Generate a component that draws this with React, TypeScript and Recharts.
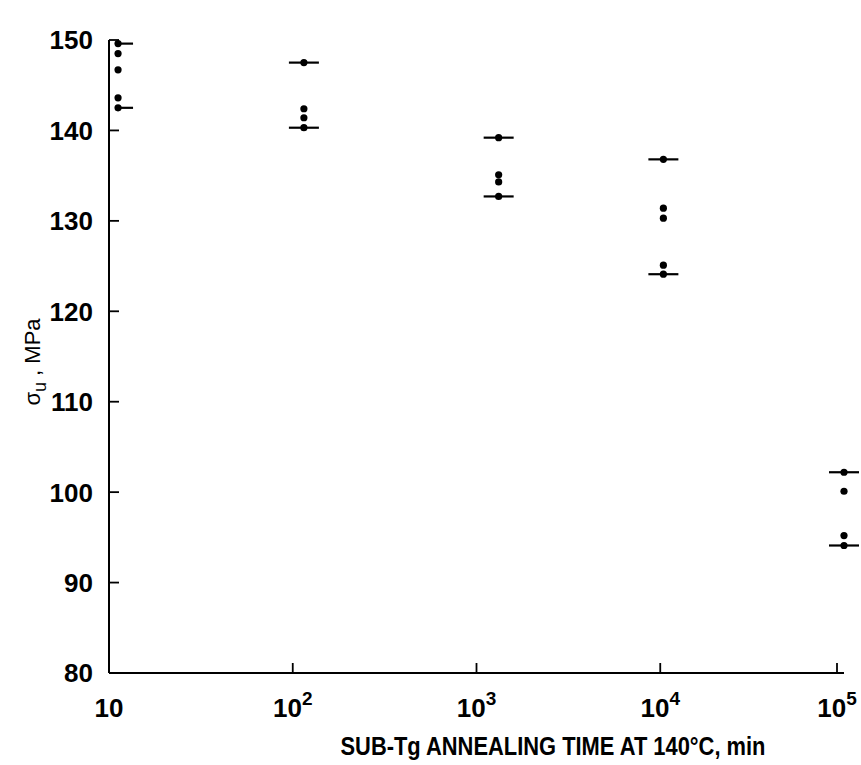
import { Scatter, ScatterChart, XAxis, YAxis } from 'recharts';

// annealing times (min) of the five specimen groups
const annealTimes = [11.2, 115, 1320, 10400, 100000];
// upper and lower ends of the scatter band (drawn with a bar)
const sigmaMax = [149.6, 147.5, 139.2, 136.8, 102.2];
const sigmaMin = [142.5, 140.3, 132.7, 124.1, 94.1];
// the other measurements inside each band
const sigmaInner = [
  [148.5, 146.7, 143.6],
  [142.4, 141.4],
  [135.1, 134.3],
  [131.4, 130.3, 125.1],
  [100.1, 95.2],
];

const xTicks = [10, 100, 1000, 10000, 100000];
const yTicks = [80, 90, 100, 110, 120, 130, 140, 150];

const endPoints = annealTimes.flatMap((t, i) => [
  { t, s: sigmaMax[i] },
  { t, s: sigmaMin[i] },
]);
const innerPoints = annealTimes.flatMap((t, i) =>
  sigmaInner[i].map((s) => ({ t, s })),
);

const font = '"Liberation Sans", Arial, sans-serif';

const BarDot = (props: any) => {
  const { cx, cy, payload } = props;
  // first group sits on the y axis, its bars only stick out to the right
  const left = payload.t < 20 ? cx - 2 : cx - 15;
  return (
    <g>
      <line x1={left} x2={cx + 15} y1={cy} y2={cy} stroke='#000' strokeWidth={2.2} />
      <circle cx={cx} cy={cy} r={3.6} fill='#000' />
    </g>
  );
};

const Dot = (props: any) => (
  <circle cx={props.cx} cy={props.cy} r={3.6} fill='#000' />
);

const XTick = (props: any) => {
  const { x, y, payload } = props;
  const exp = Math.round(Math.log10(payload.value));
  return (
    <g>
      <line x1={x} x2={x} y1={y} y2={y - 10} stroke='#000' strokeWidth={1.8} />
      <text
        x={x}
        y={y + 44}
        textAnchor='middle'
        fontFamily={font}
        fontWeight='bold'
        fontSize={26}
        fill='#000'
      >
        <tspan>10</tspan>
        {exp > 1 && (
          <tspan dy={-12} fontSize={19}>
            {exp}
          </tspan>
        )}
      </text>
    </g>
  );
};

const YTick = (props: any) => {
  const { x, y, payload } = props;
  return (
    <g>
      {payload.value > 80 && (
        <line x1={x} x2={x + 10} y1={y} y2={y} stroke='#000' strokeWidth={1.8} />
      )}
      <text
        x={x - 16}
        y={y}
        dy='0.36em'
        textAnchor='end'
        fontFamily={font}
        fontWeight='bold'
        fontSize={26}
        fill='#000'
      >
        {payload.value}
      </text>
    </g>
  );
};

const XTitle = () => (
  <text
    x={553}
    y={755}
    textAnchor='middle'
    fontFamily={font}
    fontWeight='bold'
    fontSize={25}
    textLength={425}
    lengthAdjust='spacingAndGlyphs'
    fill='#000'
  >
    SUB-Tg ANNEALING TIME AT 140°C, min
  </text>
);

const YTitle = () => (
  <text
    x={40}
    y={362}
    textAnchor='middle'
    transform='rotate(-90 40 362)'
    fontFamily={font}
    fontSize={22}
    fill='#000'
  >
    <tspan>σ</tspan>
    <tspan dy={6} fontSize={18}>u</tspan>
    <tspan dy={-6}> , MPa</tspan>
  </text>
);

export default function App() {
  return (
    <div style={{ position: 'absolute', left: 0, top: 0, background: '#fff' }}>
      <ScatterChart
        width={861}
        height={765}
        margin={{ top: 40, right: 17, bottom: 0, left: 0 }}
      >
        <XAxis
          type='number'
          dataKey='t'
          scale='log'
          domain={[10, 100000]}
          ticks={xTicks}
          height={92}
          tickSize={0}
          tickMargin={0}
          tickLine={false}
          axisLine={{ stroke: '#000', strokeWidth: 2 }}
          tick={<XTick />}
          label={{ content: () => <XTitle /> }}
        />
        <YAxis
          type='number'
          dataKey='s'
          domain={[80, 150]}
          ticks={yTicks}
          width={109}
          tickSize={0}
          tickMargin={0}
          tickLine={false}
          axisLine={{ stroke: '#000', strokeWidth: 2 }}
          tick={<YTick />}
          label={{ content: () => <YTitle /> }}
        />
        <Scatter data={endPoints} shape={<BarDot />} isAnimationActive={false} />
        <Scatter data={innerPoints} shape={<Dot />} isAnimationActive={false} />
      </ScatterChart>
    </div>
  );
}
